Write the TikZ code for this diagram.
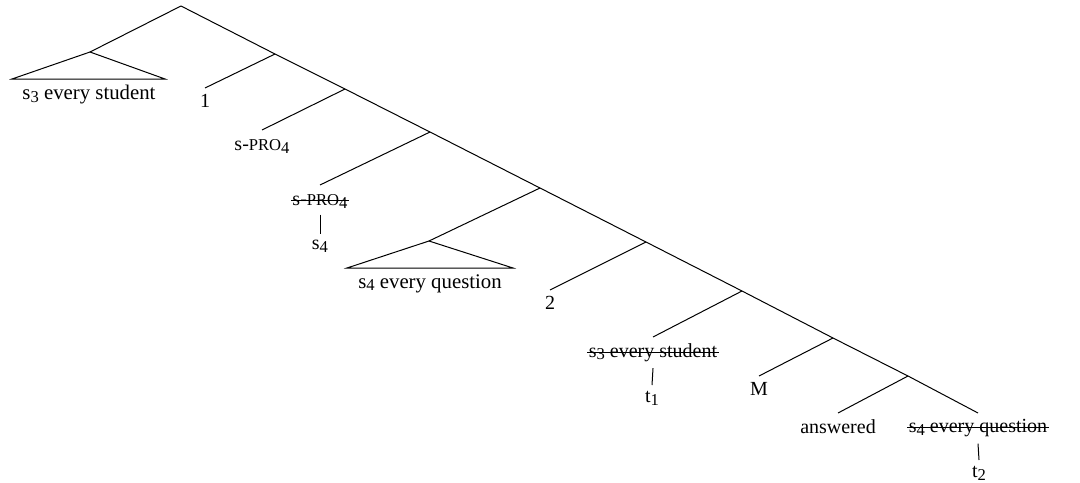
\documentclass[tikz,border=0pt]{standalone}
\usepackage{fontspec}
\setmainfont{Liberation Serif}
\newcommand{\sbs}[1]{\raisebox{-1.3pt}{\fontsize{8.3}{9}\selectfont #1}}
\newcommand{\spro}{s-{\fontsize{8.3}{9}\selectfont PRO}\sbs{4}}
\begin{document}
\begin{tikzpicture}[x=0.5pt,y=-0.5pt,line width=0.5pt,
  leaf/.style={anchor=north,inner sep=3pt,font=\fontsize{10}{12}\selectfont},
  trileaf/.style={leaf,font=\fontsize{10.4}{12}\selectfont},
  tri/.style={draw},
  strikeline/.style={line width=0.5pt}]
\useasboundingbox (0,0) rectangle (1080,482);
% spine
\coordinate (r) at (181,6);
\coordinate (n1) at (275,54);
\coordinate (n2) at (345,89);
\coordinate (n3) at (430,132);
\coordinate (n4) at (540,188);
\coordinate (n5) at (646,242);
\coordinate (n6) at (742,291);
\coordinate (n7) at (833,338);
\coordinate (n8) at (908,376);
\coordinate (e9) at (978,413);
% triangles
\coordinate (a) at (90,52);
\coordinate (aL) at (12,79);
\coordinate (aR) at (165,79);
\coordinate (b) at (429,241);
\coordinate (bL) at (347,268);
\coordinate (bR) at (513,268);
% leaf end points
\coordinate (p1) at (205,88);
\coordinate (p2) at (262,130);
\coordinate (p3) at (320,185);
\coordinate (p5) at (550,290);
\coordinate (p6) at (653,337);
\coordinate (p7) at (759,376);
\coordinate (p8) at (838,413);

\draw (r) -- (n1) -- (n2) -- (n3) -- (n4) -- (n5) -- (n6) -- (n7) -- (n8) -- (e9);
\draw (r) -- (a);
\draw[tri] (a) -- (aL) -- (aR) -- cycle;
\draw (n4) -- (b);
\draw[tri] (b) -- (bL) -- (bR) -- cycle;
\draw (n1) -- (p1);
\draw (n2) -- (p2);
\draw (n3) -- (p3);
\draw (n5) -- (p5);
\draw (n6) -- (p6);
\draw (n7) -- (p7);
\draw (n8) -- (p8);

\node[trileaf] (la) at (89,79) {s\sbs{3} every student};
\node[leaf] (l1) at (p1) {1};
\node[leaf,yshift=-1.5pt] (l2) at (p2) {\spro};
\node[leaf,yshift=-1.5pt] (l3) at (p3) {\spro};
\node[leaf] (l3b) at (320,234) {s\sbs{4}};
\node[trileaf] (lb) at (430,268) {s\sbs{4} every question};
\node[leaf] (l5) at (p5) {2};
\node[leaf] (l6) at (p6) {s\sbs{3} every student};
\node[leaf] (l6b) at (652,385) {t\sbs{1}};
\node[leaf] (l7) at (p7) {M};
\node[leaf] (l8) at (p8) {answered};
\node[leaf] (l9) at (e9) {s\sbs{4} every question};
\node[leaf] (l9b) at (979,460) {t\sbs{2}};

% strike-throughs
\foreach \n in {l3,l6,l9}
  \draw[strikeline] ([xshift=2.5pt,yshift=2.4pt]\n.base west) -- ([xshift=-2.5pt,yshift=2.4pt]\n.base east);

\draw (l3.south) -- (l3b.north);
\draw (l6.south) -- (l6b.north);
\draw (l9.south) -- (l9b.north);
\end{tikzpicture}
\end{document}
